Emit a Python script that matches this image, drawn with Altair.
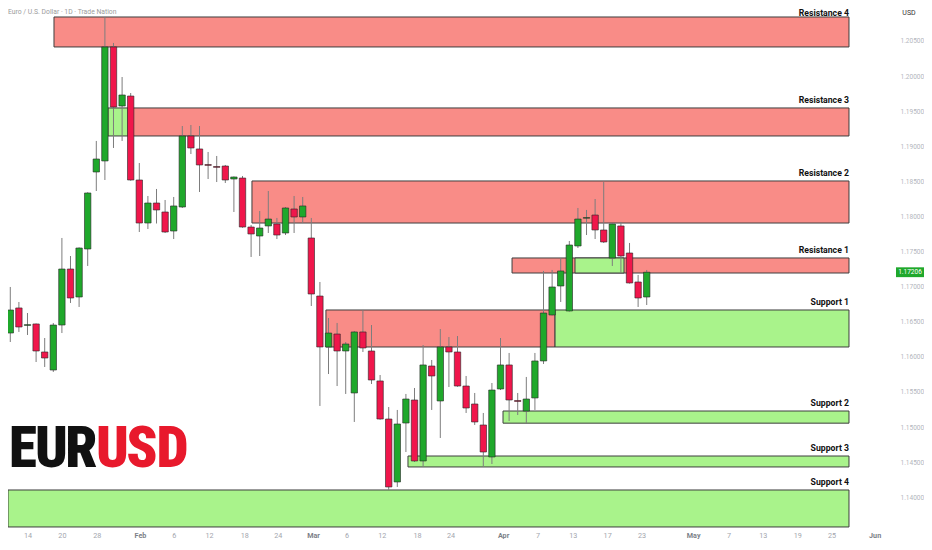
import altair as alt
import pandas as pd

# ---------------- data ----------------
bar_index = list(range(76))
opens = [1.16583, 1.16340, 1.16697, 1.16448, 1.16469, 1.16070, 1.15813, 1.16454, 1.17252, 1.16853,
         1.17537, 1.18634, 1.18791, 1.20415, 1.19574, 1.19716, 1.18520, 1.17907, 1.18192, 1.18064,
         1.17793, 1.18135, 1.19147, 1.18962, 1.18740, 1.18712, 1.18719, 1.18534, 1.18548, 1.17850,
         1.17722, 1.17865, 1.17893, 1.17765, 1.18107, 1.17993, 1.17694, 1.16867, 1.16141, 1.16326,
         1.16084, 1.15486, 1.16355, 1.16084, 1.15657, 1.15115, 1.14218, 1.15058, 1.15386, 1.14517,
         1.15870, 1.15372, 1.16141, 1.16070, 1.15585, 1.15329, 1.15030, 1.14574, 1.15543, 1.15885,
         1.15378, 1.15229, 1.15415, 1.15942, 1.16597, 1.17010, 1.16654, 1.17580, 1.17975, 1.18021,
         1.17808, 1.17409, 1.17865, 1.17480, 1.17067, 1.16853]
highs = [1.16625, 1.16996, 1.16782, 1.16625, 1.16475, 1.16269, 1.16483, 1.17694, 1.17437, 1.17560,
         1.18345, 1.19076, 1.20842, 1.20472, 1.19987, 1.19759, 1.18762, 1.18292, 1.18392, 1.18235,
         1.18278, 1.19289, 1.19303, 1.19289, 1.18919, 1.18862, 1.18734, 1.18570, 1.18577, 1.17879,
         1.18078, 1.18363, 1.17979, 1.18135, 1.18292, 1.18278, 1.17979, 1.17067, 1.16554, 1.16483,
         1.16212, 1.16369, 1.16668, 1.16454, 1.15742, 1.15286, 1.15244, 1.15472, 1.15557, 1.16169,
         1.15956, 1.16397, 1.16283, 1.16297, 1.15728, 1.15486, 1.15201, 1.15628, 1.16269, 1.16056,
         1.15486, 1.15714, 1.16056, 1.17224, 1.17238, 1.17409, 1.17651, 1.18121, 1.18093, 1.18249,
         1.18491, 1.17900, 1.17922, 1.17623, 1.17167, 1.17238]
lows = [1.16198, 1.16212, 1.16355, 1.16312, 1.15927, 1.15856, 1.15785, 1.16340, 1.16768, 1.16711,
        1.17295, 1.18363, 1.18520, 1.18976, 1.19076, 1.18510, 1.17779, 1.17822, 1.17900, 1.17765,
        1.17679, 1.18121, 1.18890, 1.18349, 1.18534, 1.18491, 1.18477, 1.18064, 1.17840, 1.17423,
        1.17437, 1.17765, 1.17679, 1.17736, 1.17765, 1.17907, 1.16725, 1.15301, 1.15756, 1.15585,
        1.15472, 1.15073, 1.16070, 1.15614, 1.15105, 1.14104, 1.14147, 1.14645, 1.14503, 1.14432,
        1.15244, 1.14845, 1.15571, 1.15575, 1.15201, 1.15030, 1.14432, 1.14474, 1.15528, 1.15087,
        1.15172, 1.15058, 1.15244, 1.15899, 1.16590, 1.16782, 1.16645, 1.17551, 1.17736, 1.17679,
        1.17623, 1.17295, 1.17195, 1.17045, 1.16711, 1.16739]
closes = [1.16355, 1.16668, 1.16426, 1.16460, 1.16084, 1.15984, 1.16454, 1.17252, 1.16839, 1.17551,
          1.18335, 1.18819, 1.20415, 1.19560, 1.19731, 1.18520, 1.17907, 1.18192, 1.18093, 1.17779,
          1.18150, 1.19147, 1.18976, 1.18734, 1.18728, 1.18700, 1.18520, 1.18563, 1.17850, 1.17751,
          1.17836, 1.17964, 1.17736, 1.18121, 1.17993, 1.18150, 1.16896, 1.16141, 1.16340, 1.16084,
          1.16184, 1.16355, 1.16127, 1.15671, 1.15115, 1.14147, 1.15044, 1.15400, 1.14517, 1.15885,
          1.15728, 1.16141, 1.16070, 1.15585, 1.15272, 1.15073, 1.14645, 1.15528, 1.15885, 1.15386,
          1.15366, 1.15400, 1.15942, 1.16625, 1.16996, 1.17224, 1.17594, 1.17964, 1.17985, 1.17808,
          1.17637, 1.17893, 1.17437, 1.17053, 1.16839, 1.17206]

zone_names = ["Resistance 4", "Resistance 3", "R3 flip", "Resistance 2", "Resistance 1", "R1 flip",
              "S1 flip", "Support 1", "Support 2", "Support 3", "Support 4"]
zone_start = [6.08, 14.69, 12.36, 29.10, 59.34, 66.66, 37.70, 64.34, 58.29, 47.24, 0.733]
zone_end = [98.52, 98.52, 14.69, 98.52, 98.52, 72.36, 64.34, 98.52, 98.52, 98.52, 98.52]
zone_top = [1.20842, 1.19546, 1.19546, 1.18506, 1.17409, 1.17409, 1.16668, 1.16668, 1.15229, 1.14588, 1.14104]
zone_bottom = [1.20415, 1.19147, 1.19147, 1.17907, 1.17195, 1.17195, 1.16141, 1.16141, 1.15056, 1.14432, 1.13577]
zone_kind = ["res", "res", "sup", "res", "res", "sup", "res", "sup", "sup", "sup", "sup"]
labelled = ["Resistance 4", "Resistance 3", "Resistance 2", "Resistance 1",
            "Support 1", "Support 2", "Support 3", "Support 4"]

x_tick_values = [3.0, 7.0, 11.05, 16.08, 20.0, 24.1, 28.2, 32.1, 36.2, 40.1, 44.2, 48.3, 52.2,
                 58.3, 62.3, 66.4, 70.4, 74.4, 80.4, 84.5, 88.5, 92.5, 96.5, 101.5]
x_tick_labels = ["14", "20", "28", "Feb", "6", "12", "18", "24", "Mar", "6", "12", "18", "24",
                 "Apr", "7", "13", "17", "23", "May", "7", "13", "19", "25", "Jun"]
month_ticks = [16.08, 36.2, 58.3, 80.4, 101.5]
y_tick_values = [1.140, 1.145, 1.150, 1.155, 1.160, 1.165, 1.170, 1.175, 1.180, 1.185,
                 1.190, 1.195, 1.200, 1.205]
last_price = 1.17206
logo_letters = ["E", "U", "R", "U", "S", "D"]

# ---------------- styling ----------------
GREEN = "#1fa82b"
RED = "#f0164b"
LOGO_RED = "#e8192c"
RES_FILL = "#f98c87"
SUP_FILL = "#a9f38b"
W, H = 876, 522
FONT = "Roboto, 'Noto Sans', sans-serif"
NARROW = ("'Roboto Condensed', 'Noto Sans ExtraCondensed', 'Noto Sans Condensed', "
          "'Liberation Sans Narrow', 'DejaVu Sans Condensed', sans-serif")

candles = pd.DataFrame({"i": bar_index, "open": opens, "high": highs, "low": lows, "close": closes})
candles["dir"] = ["up" if c >= o else "down" for o, c in zip(opens, closes)]

zones = pd.DataFrame({"name": zone_names, "x1": zone_start, "x2": zone_end,
                      "top": zone_top, "bottom": zone_bottom, "kind": zone_kind})

xs = alt.Scale(domain=[0.733, 102.59], nice=False, zero=False, padding=0)
ys = alt.Scale(domain=[1.13534, 1.20970], nice=False, zero=False, padding=0)

lab_expr = "[" + ",".join("'%s'" % t for t in x_tick_labels) + "][indexof([" + \
    ",".join(repr(v) for v in x_tick_values) + "], datum.value)]"
month_test = "indexof([" + ",".join(repr(v) for v in month_ticks) + "], datum.value) >= 0"

xaxis = alt.Axis(values=x_tick_values, labelExpr=lab_expr, title=None, grid=False, ticks=False,
                 domain=False, labelFont=FONT, labelFontSize=7.2, labelPadding=1,
                 labelColor=alt.condition(month_test, alt.value("#7c7f88"), alt.value("#a3a6ae")),
                 labelFontWeight=alt.condition(month_test, alt.value("bold"), alt.value("normal")),
                 labelOverlap=False, labelFlush=False)
yaxis = alt.Axis(values=y_tick_values, format=".5f", orient="right", title=None, grid=False,
                 ticks=False, domain=False, labelFont=FONT, labelFontSize=6.5, labelPadding=16,
                 labelColor="#b3b6bd", labelAlign="left", labelOverlap=False, labelFlush=False)

zone_layer = alt.Chart(zones).mark_rect(stroke="#3e3e3e", strokeWidth=1, clip=True).encode(
    x=alt.X("x1:Q", scale=xs, axis=xaxis), x2="x2:Q",
    y=alt.Y("top:Q", scale=ys, axis=yaxis), y2="bottom:Q",
    fill=alt.Fill("kind:N", scale=alt.Scale(domain=["res", "sup"], range=[RES_FILL, SUP_FILL]), legend=None),
)

wick_layer = alt.Chart(candles).mark_rule(color="#7d7d7d", strokeWidth=1, clip=True).encode(
    x=alt.X("i:Q", scale=xs, axis=xaxis),
    y=alt.Y("low:Q", scale=ys, axis=yaxis), y2="high:Q",
)

body_layer = alt.Chart(candles).mark_bar(size=6.4, stroke="#262626", strokeWidth=0.6, clip=True).encode(
    x=alt.X("i:Q", scale=xs, axis=xaxis),
    y=alt.Y("open:Q", scale=ys, axis=yaxis), y2="close:Q",
    fill=alt.Fill("dir:N", scale=alt.Scale(domain=["up", "down"], range=[GREEN, RED]), legend=None),
)

lab_df = zones[zones["name"].isin(labelled)]
label_layer = alt.Chart(lab_df).transform_filter("datum.name != 'Resistance 4'").mark_text(
    align="right", baseline="middle", dy=-8, font=FONT, fontSize=8.7, fontWeight="bold", color="#111111"
).encode(x=alt.X("x2:Q", scale=xs, axis=xaxis), y=alt.Y("top:Q", scale=ys, axis=yaxis), text="name:N")

label_top = alt.Chart(lab_df).transform_filter("datum.name == 'Resistance 4'").mark_text(
    align="right", baseline="middle", dy=-4, font=FONT, fontSize=8.7, fontWeight="bold", color="#111111"
).encode(x=alt.X("x2:Q", scale=xs, axis=xaxis), y=alt.Y("top:Q", scale=ys, axis=yaxis), text="name:N")

price_df = pd.DataFrame({"price": [last_price], "hi": [last_price + 0.0007], "lo": [last_price - 0.0007],
                         "txt": ["%.5f" % last_price]})
price_box = alt.Chart(price_df).mark_rect(color=GREEN).encode(
    x=alt.value(888), x2=alt.value(916),
    y=alt.Y("hi:Q", scale=ys, axis=yaxis), y2="lo:Q",
)
price_txt = alt.Chart(price_df).mark_text(color="white", font=FONT, fontSize=6.5, baseline="middle",
                                          align="center").encode(
    x=alt.value(902), y=alt.Y("price:Q", scale=ys, axis=yaxis), text="txt:N")

one = pd.DataFrame({"a": [0]})
title_txt = alt.Chart(one).mark_text(text="Euro / U.S. Dollar · 1D · Trade Nation", align="left",
                                     baseline="top", font=FONT, fontSize=6.8, color="#9b9b9b").encode(
    x=alt.value(0), y=alt.value(0.5))
usd_txt = alt.Chart(one).mark_text(text="USD", align="center", baseline="top", font=FONT, fontSize=7,
                                   color="#333333").encode(x=alt.value(901), y=alt.value(0.5))

letter_x = [15, 43.5, 73.5, 104.5, 134, 164.5]
letter_col = ["#111111", "#111111", "#111111", LOGO_RED, LOGO_RED, LOGO_RED]
logo_layers = []
for ch, lx, col in zip(logo_letters, letter_x, letter_col):
    logo_layers.append(alt.Chart(one).mark_text(text=ch, align="center", baseline="alphabetic", font=NARROW,
                                                fontSize=57, fontWeight=900, color=col).encode(
        x=alt.value(lx), y=alt.value(459)))

chart = alt.layer(zone_layer, wick_layer, body_layer, label_layer, label_top, price_box, price_txt,
                  title_txt, usd_txt, *logo_layers).resolve_scale(fill="independent").properties(
    width=W, height=H,
    padding={"left": 0, "top": 0, "right": 40, "bottom": 10},
    autosize=alt.AutoSizeParams(type="none"),
    background="white",
).configure_view(strokeWidth=0)

chart.save("out.html", embed_options={"renderer": "svg", "actions": False})
